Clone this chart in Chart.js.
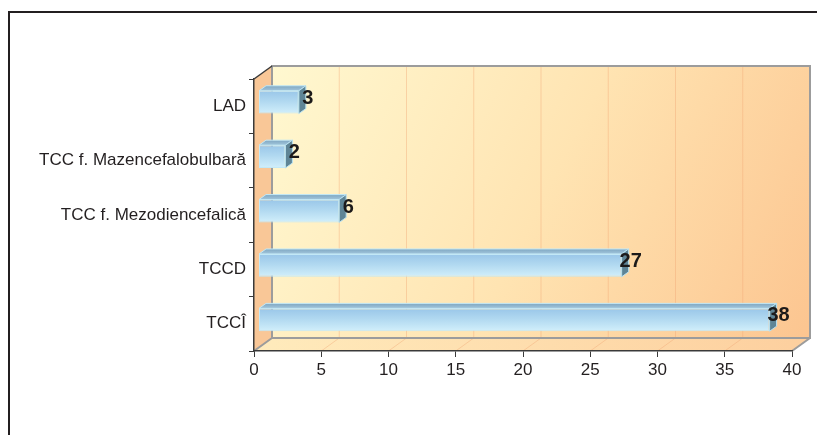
<!DOCTYPE html>
<html>
<head>
<meta charset="utf-8">
<script src="https://cdn.jsdelivr.net/npm/chart.js@4.4.1/dist/chart.umd.min.js"></script>
<style>
    html, body { margin: 0; padding: 0; background: #fff; }
    #wrap { width: 817px; height: 435px; position: relative; }
</style>
</head>
<body>
<div id="wrap"><canvas id="casesChart"></canvas></div>
<script>
// values
const categories = ['LAD', 'TCC f. Mazencefalobulbară', 'TCC f. Mezodiencefalică', 'TCCD', 'TCCÎ'];
const cases = [3, 2, 6, 27, 38];
const axisMin = 0;
const axisMax = 40;
const axisStep = 5;

// fake 3D look
const WALL_DX = 18, WALL_DY = -13;
const BAR_SHIFT_X = 4.5, BAR_SHIFT_Y = -4;
const BAR_DX = 7, BAR_DY = -5;

function frontFace(context) {
    const chart = context.chart;
    const yScale = chart.scales.y;
    if (!yScale || !chart.chartArea) return '#b5dcf2';
    const yc = yScale.getPixelForValue(context.dataIndex);
    const g = chart.ctx.createLinearGradient(0, yc - 12, 0, yc + 12);
    g.addColorStop(0, '#98c5e8');
    g.addColorStop(0.45, '#b0d8f0');
    g.addColorStop(1, '#d3f0fb');
    return g;
}

const depthPlugin = {
    id: 'depth3d',
    beforeDraw(chart) {
        const { ctx, chartArea: a } = chart;
        const xs = chart.scales.x;
        const L = a.left, R = a.right, T = a.top, B = a.bottom;
        const bl = L + WALL_DX, br = R + WALL_DX, bt = T + WALL_DY, bb = B + WALL_DY;

        ctx.save();
        ctx.fillStyle = '#fff';
        ctx.fillRect(0, 0, chart.width, chart.height);

        // outer frame (only top and left are visible)
        ctx.strokeStyle = '#231f20';
        ctx.lineWidth = 2;
        ctx.beginPath();
        ctx.moveTo(9, chart.height);
        ctx.lineTo(9, 12);
        ctx.lineTo(chart.width, 12);
        ctx.stroke();

        // back wall
        let g = ctx.createLinearGradient(bl, bt, br, bb);
        g.addColorStop(0, '#fff8d0');
        g.addColorStop(0.5, '#ffe4b2');
        g.addColorStop(1, '#fcc590');
        ctx.fillStyle = g;
        ctx.fillRect(bl, bt, br - bl, bb - bt);

        // left wall
        ctx.fillStyle = '#f9c797';
        ctx.beginPath();
        ctx.moveTo(L, T); ctx.lineTo(bl, bt); ctx.lineTo(bl, bb); ctx.lineTo(L, B);
        ctx.closePath();
        ctx.fill();

        // floor
        g = ctx.createLinearGradient(L, 0, br, 0);
        g.addColorStop(0, '#ffebbc');
        g.addColorStop(1, '#fdcf9e');
        ctx.fillStyle = g;
        ctx.beginPath();
        ctx.moveTo(L, B); ctx.lineTo(bl, bb); ctx.lineTo(br, bb); ctx.lineTo(R, B);
        ctx.closePath();
        ctx.fill();

        // grid on back wall and floor
        ctx.lineWidth = 1;
        xs.ticks.forEach(t => {
            const px = xs.getPixelForValue(t.value);
            if (t.value > axisMin && t.value < axisMax) {
                ctx.strokeStyle = 'rgba(240,165,115,0.4)';
                ctx.beginPath();
                ctx.moveTo(px + WALL_DX, bt);
                ctx.lineTo(px + WALL_DX, bb);
                ctx.stroke();
            }
            if (t.value > axisMin) {
                ctx.strokeStyle = 'rgba(240,165,115,0.4)';
                ctx.beginPath();
                ctx.moveTo(px, B);
                ctx.lineTo(px + WALL_DX, bb);
                ctx.stroke();
            }
        });

        // wall edges
        ctx.strokeStyle = '#9c9c9c';
        ctx.lineWidth = 2;
        ctx.beginPath();
        ctx.moveTo(bl, bb); ctx.lineTo(bl, bt); ctx.lineTo(br, bt); ctx.lineTo(br, bb);
        ctx.lineTo(bl, bb);
        ctx.moveTo(br, bb); ctx.lineTo(R, B);
        ctx.moveTo(bl, bb); ctx.lineTo(L, B);
        ctx.stroke();

        ctx.strokeStyle = '#3a3a3a';
        ctx.lineWidth = 1.5;
        ctx.beginPath();
        ctx.moveTo(L, T); ctx.lineTo(bl, bt);
        ctx.stroke();
        ctx.restore();
    },
    beforeDatasetsDraw(chart) {
        chart.ctx.save();
        chart.ctx.translate(BAR_SHIFT_X, BAR_SHIFT_Y);
    },
    afterDatasetsDraw(chart) {
        const ctx = chart.ctx;
        const meta = chart.getDatasetMeta(0);
        meta.data.forEach((bar, i) => {
            const { x, y, base, height } = bar.getProps(['x', 'y', 'base', 'height'], true);
            const top = y - height / 2, bottom = y + height / 2;

            // top face
            let g = ctx.createLinearGradient(0, top + BAR_DY, 0, top);
            g.addColorStop(0, '#7fa7c2');
            g.addColorStop(1, '#a2c6dc');
            ctx.fillStyle = g;
            ctx.beginPath();
            ctx.moveTo(base, top); ctx.lineTo(base + BAR_DX, top + BAR_DY);
            ctx.lineTo(x + BAR_DX, top + BAR_DY); ctx.lineTo(x, top);
            ctx.closePath();
            ctx.fill();
            ctx.strokeStyle = '#c2e8f6';
            ctx.lineWidth = 1;
            ctx.stroke();

            // end face
            ctx.fillStyle = '#5f8596';
            ctx.beginPath();
            ctx.moveTo(x, top); ctx.lineTo(x + BAR_DX, top + BAR_DY);
            ctx.lineTo(x + BAR_DX, bottom + BAR_DY); ctx.lineTo(x, bottom);
            ctx.closePath();
            ctx.fill();
            ctx.strokeStyle = '#b8e2f2';
            ctx.stroke();

            // value label
            ctx.fillStyle = '#1c1a1a';
            ctx.font = 'bold 20px "Liberation Sans", Arial, sans-serif';
            ctx.textAlign = 'center';
            ctx.textBaseline = 'middle';
            ctx.fillText(String(cases[i]), x + 9, y - 4);
        });
        ctx.restore();
    }
};

new Chart(document.getElementById('casesChart'), {
    type: 'bar',
    data: {
        labels: categories,
        datasets: [{
            data: cases,
            backgroundColor: frontFace,
            borderColor: '#c2e8f6',
            borderWidth: 1,
            borderSkipped: false,
            categoryPercentage: 1,
            barPercentage: 0.42
        }]
    },
    options: {
        indexAxis: 'y',
        responsive: true,
        maintainAspectRatio: false,
        animation: false,
        events: [],
        layout: { padding: { top: 79, right: 25, left: 0, bottom: 0 } },
        plugins: {
            legend: { display: false },
            tooltip: { enabled: false }
        },
        scales: {
            x: {
                min: axisMin,
                max: axisMax,
                ticks: {
                    stepSize: axisStep,
                    color: '#231f20',
                    padding: 3,
                    font: { family: '"Liberation Sans", Arial, sans-serif', size: 17 }
                },
                grid: { drawOnChartArea: false, tickLength: 6, color: '#3a3a3a', tickColor: '#3a3a3a' },
                border: { color: '#3a3a3a', width: 1.5 },
                afterFit(scale) { scale.height = 84; }
            },
            y: {
                ticks: {
                    color: '#231f20',
                    padding: 3,
                    font: { family: '"Liberation Sans", Arial, sans-serif', size: 17 }
                },
                grid: { drawOnChartArea: false, tickLength: 5, color: '#3a3a3a', tickColor: '#3a3a3a' },
                border: { color: '#3a3a3a', width: 1.5 },
                afterFit(scale) { scale.width = 254; }
            }
        }
    },
    plugins: [depthPlugin]
});
</script>
</body>
</html>
